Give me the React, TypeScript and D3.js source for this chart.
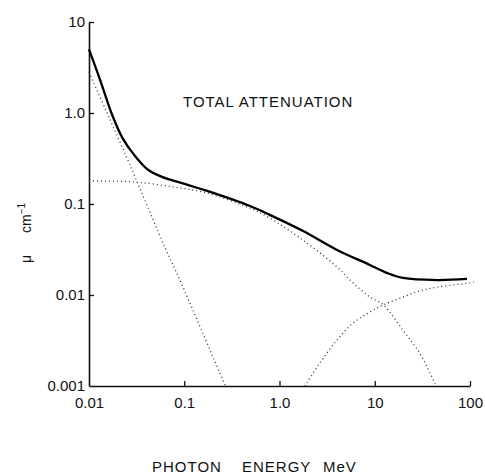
import React, { useEffect, useRef } from 'react';
import * as d3 from 'd3';

// photon energy (MeV) vs linear attenuation coefficient (cm^-1)
const totalE = [0.01, 0.0131, 0.0174, 0.0225, 0.0302, 0.0416, 0.0574, 0.109, 0.171, 0.49, 0.79, 1.77, 4.02, 8.9, 13.4, 19.8, 45, 93];
const totalMu = [5.0, 2.3, 0.97, 0.53, 0.34, 0.238, 0.2, 0.162, 0.14, 0.095, 0.076, 0.0505, 0.0313, 0.0214, 0.0175, 0.0154, 0.0146, 0.015];

const photoE = [0.01, 0.0155, 0.0257, 0.035, 0.063, 0.09, 0.27];
const photoMu = [2.8, 1.0, 0.3, 0.14, 0.033, 0.0146, 0.001];

const comptonE = [0.01, 0.02, 0.033, 0.073, 0.165, 0.49, 0.79, 1.77, 4.02, 5.9, 8.9, 12.3, 19.8, 29.6, 44];
const comptonMu = [0.179, 0.178, 0.173, 0.155, 0.134, 0.09, 0.07, 0.04, 0.0203, 0.0136, 0.0095, 0.0078, 0.0041, 0.0023, 0.001];

const pairE = [1.85, 2.66, 4.02, 5.9, 8.9, 12.3, 19.8, 29.6, 45, 100, 110];
const pairMu = [0.001, 0.0018, 0.0032, 0.0049, 0.0065, 0.0078, 0.0095, 0.0111, 0.0122, 0.0136, 0.0139];

const xTicks = [0.01, 0.1, 1, 10, 100];
const xTickLabels = ['0.01', '0.1', '1.0', '10', '100'];
const yTicks = [0.001, 0.01, 0.1, 1, 10];
const yTickLabels = ['0.001', '0.01', '0.1', '1.0', '10'];

const font = '"Liberation Sans", Arial, sans-serif';

export default function App() {
  const xAxisRef = useRef<SVGGElement>(null);
  const yAxisRef = useRef<SVGGElement>(null);

  const x = d3.scaleLog().domain([0.01, 100]).range([89, 470]);
  const y = d3.scaleLog().domain([0.001, 10]).range([386, 22]);

  const line = d3.line<[number, number]>()
    .x(d => x(d[0]))
    .y(d => y(d[1]))
    .curve(d3.curveCatmullRom.alpha(0.5));

  const zip = (e: number[], m: number[]) => e.map((v, i) => [v, m[i]] as [number, number]);

  useEffect(() => {
    const xa = d3.axisBottom(x)
      .tickValues(xTicks)
      .tickFormat((d, i) => xTickLabels[i])
      .tickSizeInner(-5)
      .tickSizeOuter(0)
      .tickPadding(11);
    const ya = d3.axisLeft(y)
      .tickValues(yTicks)
      .tickFormat((d, i) => yTickLabels[i])
      .tickSizeInner(-5)
      .tickSizeOuter(0)
      .tickPadding(4);
    const gx = d3.select(xAxisRef.current!).call(xa as any);
    const gy = d3.select(yAxisRef.current!).call(ya as any);
    [gx, gy].forEach(g => {
      g.select('.domain').attr('stroke', '#111').attr('stroke-width', 1.6);
      g.selectAll('.tick line').attr('stroke', '#111').attr('stroke-width', 1.3);
      g.selectAll('.tick text')
        .attr('fill', '#111')
        .attr('font-family', font)
        .attr('font-size', 15);
    });
    // the first ticks sit on the other axis; no mark there
    gx.selectAll('.tick').filter((d: any) => d === 0.01).select('line').remove();
    gy.selectAll('.tick').filter((d: any) => d === 0.001).select('line').remove();
  }, []);

  return (
    <svg width={485} height={474} style={{ position: 'absolute', left: 0, top: 0, background: '#fff' }}>
      <g ref={xAxisRef} transform="translate(0,386)" />
      <g ref={yAxisRef} transform="translate(89,0)" />

      <path d={line(zip(photoE, photoMu)) || ''} fill="none" stroke="#333" strokeWidth={1.3} strokeDasharray="1,3" />
      <path d={line(zip(comptonE, comptonMu)) || ''} fill="none" stroke="#333" strokeWidth={1.3} strokeDasharray="1,3" />
      <path d={line(zip(pairE, pairMu)) || ''} fill="none" stroke="#333" strokeWidth={1.3} strokeDasharray="1,3" />
      <path d={line(zip(totalE, totalMu)) || ''} fill="none" stroke="#000" strokeWidth={2.3} />

      <text x={183} y={107} fontFamily={font} fontSize={15} letterSpacing={1} fill="#111">
        TOTAL ATTENUATION
      </text>

      <g fontFamily={font} fontSize={15} fill="#111" letterSpacing={1}>
        <text x={152} y={472}>PHOTON</text>
        <text x={242} y={472}>ENERGY</text>
        <text x={323} y={472}>MeV</text>
      </g>

      <text transform="translate(31,263) rotate(-90)" fontFamily={font} fontSize={14} fill="#111">
        <tspan>μ</tspan>
        <tspan dx={22}>cm</tspan>
        <tspan dy={-6} fontSize={10}>−1</tspan>
      </text>
    </svg>
  );
}
